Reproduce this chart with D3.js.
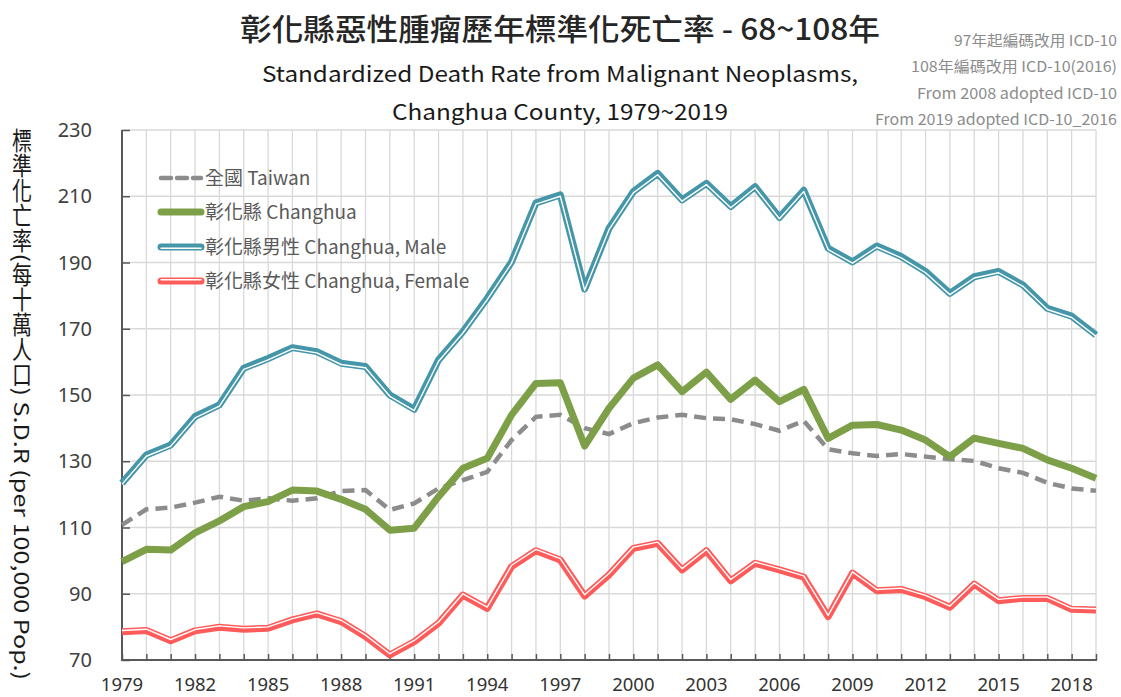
<!DOCTYPE html>
<html>
<head>
<meta charset="utf-8">
<script src="https://cdn.jsdelivr.net/npm/d3@7.9.0/dist/d3.min.js"></script>
<style>
  body { margin: 0; background: #fff; }
  svg { display: block; font-family: "Noto Sans CJK TC", "Noto Sans", sans-serif; }
</style>
</head>
<body>
<svg id="chart" width="1121" height="697"></svg>
<script>
// years 1979 (民國68) ~ 2019 (民國108)
const years = d3.range(1979, 2020);

const taiwan = [110.8, 115.5, 116, 117.5, 119.3, 118.1, 118.8, 118.1, 118.8, 121, 121.3,
  115.3, 117.3, 121.8, 124.3, 126.8, 136.4, 143.4, 144, 140, 138.2,
  141.5, 143.2, 144, 143, 142.7, 141.2, 139.2, 142.2, 133.6, 132.4,
  131.6, 132.2, 131.4, 130.6, 130.1, 127.9, 126.5, 123.5, 121.8, 121.1];

const changhua = [99.7, 103.4, 103.2, 108.4, 112, 116.3, 117.8, 121.3, 121, 118.5, 115.5,
  109.2, 109.8, 119.3, 127.9, 130.9, 144, 153.5, 153.7, 134.6, 146,
  155.1, 159.1, 151, 156.9, 148.7, 154.5, 148, 151.7, 136.9, 140.9,
  141.1, 139.4, 136.4, 131.4, 137, 135.4, 133.9, 130.4, 127.9, 124.9];

const male = [123.4, 131.9, 134.9, 143.5, 147, 158.1, 161, 164.3, 163.1, 159.6, 158.6,
  150, 145.7, 160.6, 169.1, 179.2, 190.2, 208, 210.4, 182, 200.3,
  211.4, 216.9, 208.9, 213.9, 206.9, 212.9, 203.6, 211.8, 194.3, 190.2,
  195, 191.8, 187.3, 180.7, 185.7, 187.3, 183.2, 176.2, 173.8, 168.1];

const female = [78.5, 78.9, 75.8, 78.8, 79.9, 79.3, 79.6, 82.1, 83.9, 81.6, 77.1,
  71.5, 75.5, 81.1, 89.6, 85.6, 98.2, 103, 100.2, 89.3, 95.7,
  103.7, 105.2, 97.2, 103, 93.9, 99.2, 97.2, 95, 83.1, 96.2,
  90.9, 91.3, 89.1, 85.9, 92.9, 87.9, 88.6, 88.6, 85.3, 85.1];

const yTicks = [70, 90, 110, 130, 150, 170, 190, 210, 230];
const xLabelYears = d3.range(1979, 2020, 3);

const seriesNames = ["全國 Taiwan", "彰化縣 Changhua", "彰化縣男性 Changhua, Male", "彰化縣女性 Changhua, Female"];

const titleZh = "彰化縣惡性腫瘤歷年標準化死亡率 - 68~108年";
const titleEn1 = "Standardized Death Rate from Malignant Neoplasms,";
const titleEn2 = "Changhua County, 1979~2019";
const notes = ["97年起編碼改用 ICD-10", "108年編碼改用 ICD-10(2016)", "From 2008 adopted ICD-10", "From 2019 adopted ICD-10_2016"];
const yTitle = "標準化亡率(每十萬人口) S.D.R (per 100,000 Pop.)";

const svg = d3.select("#chart");
const mLeft = 122, mRight = 1096, mTop = 130, mBottom = 660;

const x = d3.scaleLinear().domain([1979, 2019]).range([mLeft, mRight]);
const y = d3.scaleLinear().domain([70, 230]).range([mBottom, mTop]);

// grid
svg.append("g").selectAll("line").data(yTicks).join("line")
  .attr("x1", mLeft).attr("x2", mRight)
  .attr("y1", d => y(d)).attr("y2", d => y(d))
  .attr("stroke", "#d9d9d9").attr("stroke-width", 1.3);
svg.append("g").selectAll("line").data(years).join("line")
  .attr("x1", d => x(d)).attr("x2", d => x(d))
  .attr("y1", mTop).attr("y2", mBottom)
  .attr("stroke", "#d9d9d9").attr("stroke-width", 1.3);

// axes
const yAxis = svg.append("g").attr("transform", `translate(${mLeft},0)`)
  .call(d3.axisRight(y).tickValues(yTicks).tickSize(8).tickFormat(""));
yAxis.select(".domain").remove();
yAxis.selectAll("line").attr("stroke", "#595959").attr("stroke-width", 1.5);
svg.append("line").attr("x1", mLeft).attr("x2", mLeft).attr("y1", mTop).attr("y2", mBottom + 1)
  .attr("stroke", "#595959").attr("stroke-width", 2);

const xAxis = svg.append("g").attr("transform", `translate(0,${mBottom})`)
  .call(d3.axisTop(x).tickValues(years).tickSize(6).tickFormat(""));
xAxis.select(".domain").remove();
xAxis.selectAll("line").attr("stroke", "#595959").attr("stroke-width", 1.5);
svg.append("line").attr("x1", mLeft - 1).attr("x2", mRight + 1).attr("y1", mBottom).attr("y2", mBottom)
  .attr("stroke", "#595959").attr("stroke-width", 2);

svg.append("g").selectAll("text").data(yTicks).join("text")
  .attr("x", 92).attr("y", d => y(d)).attr("dy", "0.36em")
  .attr("text-anchor", "end").attr("font-size", 20).attr("fill", "#404040")
  .attr("font-family", "'Noto Sans', sans-serif")
  .text(d => d);

svg.append("g").selectAll("text").data(xLabelYears).join("text")
  .attr("x", d => x(d)).attr("y", 691)
  .attr("text-anchor", "middle").attr("font-size", 18.5).attr("fill", "#333")
  .attr("font-family", "'Noto Sans', sans-serif")
  .text(d => d);

// lines
const line = data => d3.line().x((d, i) => x(years[i])).y(d => y(d))(data);

svg.append("path").attr("d", line(taiwan)).attr("fill", "none")
  .attr("stroke", "#8c8c8c").attr("stroke-width", 4.5).attr("stroke-dasharray", "12,7");
svg.append("path").attr("d", line(changhua)).attr("fill", "none")
  .attr("stroke", "#7d9f48").attr("stroke-width", 7).attr("stroke-linejoin", "round");

function doubleLine(data, color, off) {
  svg.append("path").attr("d", line(data)).attr("fill", "none")
    .attr("stroke", color).attr("stroke-width", 7).attr("stroke-linejoin", "round");
  svg.append("path").attr("d", line(data)).attr("fill", "none")
    .attr("transform", `translate(0,${off})`)
    .attr("stroke", "#fff").attr("stroke-width", 1.4).attr("stroke-linejoin", "round");
}
doubleLine(male, "#4696a9", 1.3);
doubleLine(female, "#ff5b5b", -1.3);

// legend
const leg = svg.append("g");
const legY = [178, 212, 247, 281];
const legStyle = [
  { c: "#8c8c8c", w: 4.5, dash: "10,6", dbl: 0 },
  { c: "#7d9f48", w: 7, dash: null, dbl: 0 },
  { c: "#4696a9", w: 7, dash: null, dbl: 1.3 },
  { c: "#ff5b5b", w: 7, dash: null, dbl: -1.3 }
];
seriesNames.forEach((name, i) => {
  const s = legStyle[i];
  leg.append("line").attr("x1", 161).attr("x2", 201).attr("y1", legY[i]).attr("y2", legY[i])
    .attr("stroke", s.c).attr("stroke-width", s.w).attr("stroke-linecap", "round")
    .attr("stroke-dasharray", s.dash);
  if (s.dbl) {
    leg.append("line").attr("x1", 161).attr("x2", 201).attr("y1", legY[i] + s.dbl).attr("y2", legY[i] + s.dbl)
      .attr("stroke", "#fff").attr("stroke-width", 1.4).attr("stroke-linecap", "round");
  }
  leg.append("text").attr("x", 205).attr("y", legY[i]).attr("dy", "0.35em")
    .attr("font-size", 19).attr("fill", "#595959").text(name);
});

// titles
svg.append("text").attr("x", 560).attr("y", 40).attr("text-anchor", "middle")
  .attr("font-size", 30).attr("font-weight", 500).attr("fill", "#262626")
  .attr("textLength", 640).attr("lengthAdjust", "spacingAndGlyphs").text(titleZh);
svg.append("text").attr("x", 560).attr("y", 82).attr("text-anchor", "middle")
  .attr("font-size", 22).attr("fill", "#1a1a1a")
  .attr("textLength", 596).attr("lengthAdjust", "spacingAndGlyphs").text(titleEn1);
svg.append("text").attr("x", 560).attr("y", 120).attr("text-anchor", "middle")
  .attr("font-size", 22).attr("fill", "#1a1a1a")
  .attr("textLength", 336).attr("lengthAdjust", "spacingAndGlyphs").text(titleEn2);

const noteY = [46, 72, 99, 125];
const noteW = [163, 206, 200, 242];
notes.forEach((t, i) => {
  svg.append("text").attr("x", 1117 - noteW[i]).attr("y", noteY[i])
    .attr("font-size", 15).attr("fill", "#8c8c8c")
    .attr("textLength", noteW[i]).attr("lengthAdjust", "spacingAndGlyphs").text(t);
});

// y axis title (vertical)
svg.append("text").attr("x", 22).attr("y", 128)
  .style("writing-mode", "vertical-rl").style("text-orientation", "mixed")
  .attr("font-size", 20).attr("fill", "#1a1a1a")
  .attr("textLength", 552).attr("lengthAdjust", "spacingAndGlyphs")
  .text(yTitle);
</script>
</body>
</html>
